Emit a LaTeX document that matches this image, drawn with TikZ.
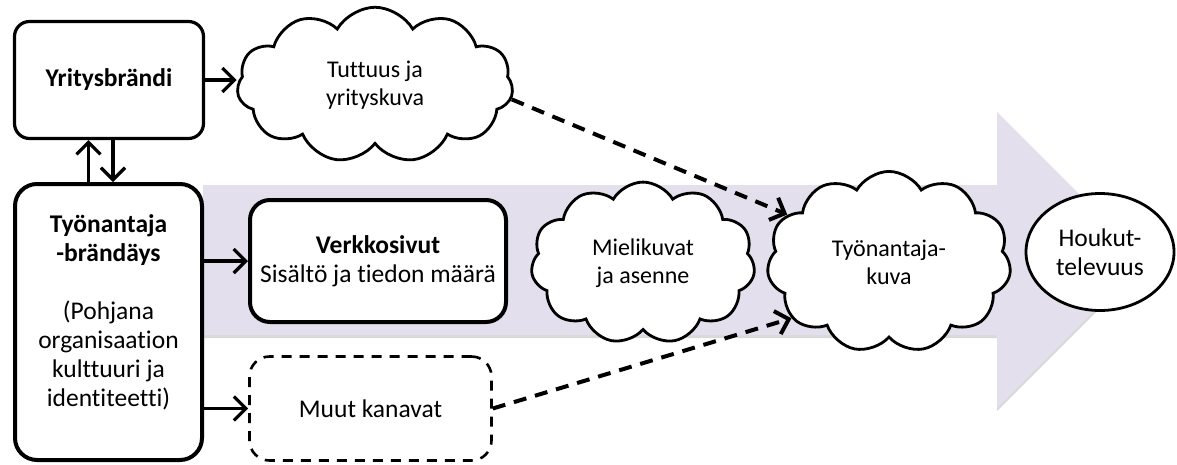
\documentclass[tikz,border=0pt]{standalone}
\usepackage{fontspec}
\setmainfont{Carlito}[Ligatures={NoCommon}]
\usetikzlibrary{arrows.meta, positioning, calc, shapes.geometric, shapes.symbols}
\definecolor{arrowfill}{RGB}{228,223,236}

\begin{document}
\begin{tikzpicture}[x=1pt, y=-1pt,
    font=\fontsize{25.5}{29}\selectfont,
    box/.style={draw, fill=white, rounded corners=15pt, line width=3.2pt, align=center, inner sep=0pt},
    thickbox/.style={box, line width=4pt, rounded corners=22pt},
    thought/.style={draw, fill=white, cloud, cloud puffs=11, cloud puff arc=120, line width=2.8pt, align=center, inner sep=0pt, font=\fontsize{24}{28}\selectfont},
    conn/.style={line width=3.2pt, -{Straight Barb[length=12pt, width=24pt]}},
    dashconn/.style={conn, line width=4pt, dash pattern=on 13pt off 9pt}]

    \useasboundingbox (0,0) rectangle (1177,464);

    \fill[black!15, yshift=-3pt] (203,185) -- (997,185) -- (997,112) -- (1145,260) -- (997,408) -- (997,335) -- (203,335) -- cycle;
    \fill[arrowfill] (203,185) -- (997,185) -- (997,112) -- (1145,260) -- (997,408) -- (997,335) -- (203,335) -- cycle;

    \node[box, minimum width=189pt, minimum height=117pt] (yrit) at (109,80) {\textbf{Yritysbrändi}};
    \node[thickbox, minimum width=187pt, minimum height=276pt] (tyon) at (108.5,322)
        {\textbf{Työnantaja}\\\textbf{-brändäys}\\[29pt](Pohjana\\organisaation\\kulttuuri ja\\identiteetti)\\[-7pt]\mbox{}};
    \node[thickbox, rounded corners=20pt, minimum width=256pt, minimum height=122pt] (verkko) at (378,261)
        {\textbf{Verkkosivut}\\Sisältö ja tiedon määrä};
    \node[box, line width=2.6pt, dash pattern=on 10pt off 8pt, rounded corners=20pt, minimum width=242pt, minimum height=104pt] (muut) at (370.5,408.5) {Muut kanavat};

    \node[thought, minimum width=276pt, minimum height=146pt] (tuttuus) at (375,85) {Tuttuus ja\\yrityskuva};
    \node[thought, minimum width=224pt, minimum height=117pt] (mieli) at (643,263) {Mielikuvat\\ja asenne};
    \node[thought, minimum width=244pt, minimum height=117pt] (kuva) at (889,262) {Työnantaja-\\kuva};
    \node[draw, ellipse, fill=white, line width=2.8pt, minimum width=148pt, minimum height=117pt, align=center, inner sep=0pt] (houk) at (1100,252) {Houkut-\\televuus};

    \draw[conn] (yrit.east) -- (yrit.east -| tuttuus.west);
    \draw[conn] ([xshift=-20pt]tyon.north) -- ([xshift=-20pt]tyon.north |- yrit.south);
    \draw[conn] ([xshift=4pt]yrit.south) -- ([xshift=4pt]yrit.south |- tyon.north);
    \draw[conn] (tyon.east |- verkko.west) -- (verkko.west);
    \draw[conn] (tyon.east |- muut.west) -- (muut.west);
    \draw[dashconn] (tuttuus.-6) -- (kuva.155);
    \draw[dashconn] (muut.east) -- (kuva.210);
\end{tikzpicture}
\end{document}
